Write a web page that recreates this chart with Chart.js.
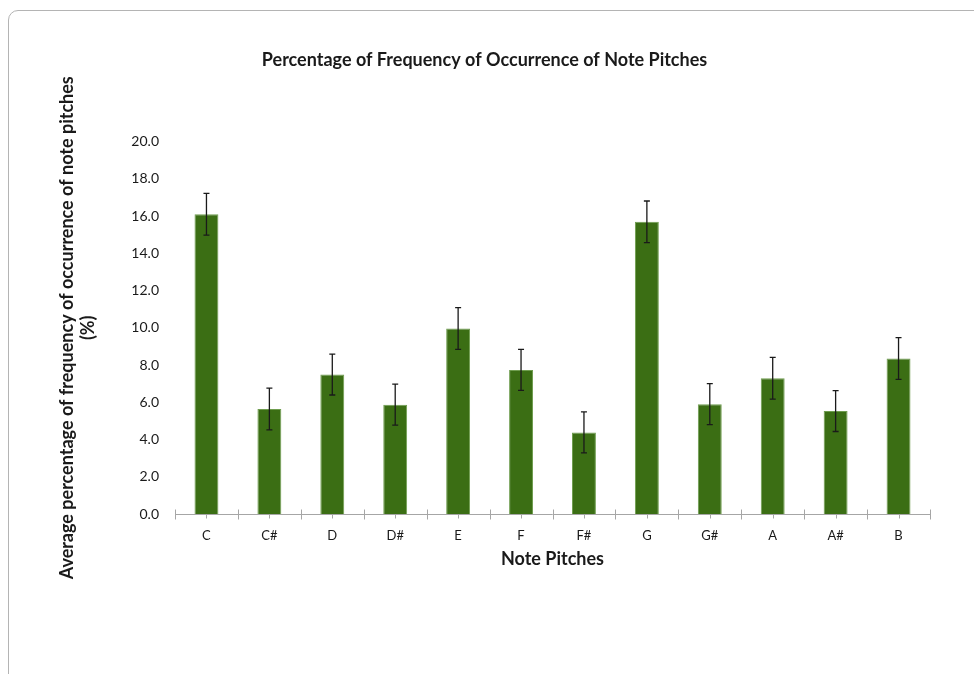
<!DOCTYPE html>
<html>
<head>
<meta charset="utf-8">
<script src="https://cdn.jsdelivr.net/npm/chart.js@4"></script>
<style>
  html, body { margin: 0; padding: 0; background: #fff; overflow: hidden; }
  #frame { position: absolute; left: 8px; top: 10px; width: 990px; height: 700px; border: 1px solid #b4b4b4; border-radius: 10px; box-sizing: border-box; }
  #wrap { position: absolute; left: 0; top: 0; width: 974px; height: 674px; }
</style>
</head>
<body>
<div id="frame"></div>
<div id="wrap"><canvas id="c"></canvas></div>
<script>
const categories = ['C', 'C#', 'D', 'D#', 'E', 'F', 'F#', 'G', 'G#', 'A', 'A#', 'B'];
const meanValues = [16.1, 5.64, 7.49, 5.87, 9.96, 7.74, 4.38, 15.69, 5.9, 7.29, 5.53, 8.35];
const errorValues = [1.12, 1.12, 1.1, 1.1, 1.12, 1.1, 1.1, 1.12, 1.1, 1.12, 1.1, 1.12];
const yTicks = [0, 2, 4, 6, 8, 10, 12, 14, 16, 18, 20];

const FONT = 'Lato, "Open Sans", sans-serif';

const errorBarPlugin = {
  id: 'errorBars',
  afterDatasetsDraw(chart) {
    const ctx = chart.ctx;
    const meta = chart.getDatasetMeta(0);
    const y = chart.scales.y;
    ctx.save();
    ctx.strokeStyle = '#1a1a1a';
    ctx.lineWidth = 1.3;
    meta.data.forEach((bar, i) => {
      const x = bar.x;
      const top = y.getPixelForValue(meanValues[i] + errorValues[i]);
      const bot = y.getPixelForValue(meanValues[i] - errorValues[i]);
      ctx.beginPath();
      ctx.moveTo(x, top); ctx.lineTo(x, bot);
      ctx.moveTo(x - 3, top); ctx.lineTo(x + 3, top);
      ctx.moveTo(x - 3, bot); ctx.lineTo(x + 3, bot);
      ctx.stroke();
    });
    ctx.restore();
  }
};

const tickMarkPlugin = {
  id: 'tickMarks',
  afterDraw(chart) {
    const ctx = chart.ctx;
    const xs = chart.scales.x;
    const yb = Math.round(chart.chartArea.bottom) + 0.5;
    ctx.save();
    ctx.strokeStyle = '#a6a6a6';
    ctx.lineWidth = 1;
    const n = categories.length;
    const w = (xs.right - xs.left) / n;
    for (let i = 0; i <= n; i++) {
      const px = Math.round(xs.left + i * w) + 0.5;
      ctx.beginPath(); ctx.moveTo(px, yb - 5); ctx.lineTo(px, yb + 5); ctx.stroke();
    }
    for (let i = 0; i < n; i++) {
      const px = Math.round(xs.getPixelForValue(i)) + 0.5;
      ctx.beginPath(); ctx.moveTo(px, yb); ctx.lineTo(px, yb + 4); ctx.stroke();
    }
    ctx.beginPath(); ctx.moveTo(xs.left, yb); ctx.lineTo(xs.right, yb); ctx.stroke();
    ctx.restore();
  }
};

new Chart(document.getElementById('c'), {
  type: 'bar',
  data: {
    labels: categories,
    datasets: [{
      data: meanValues,
      backgroundColor: '#3b6e14',
      borderColor: '#6f9d4f',
      borderWidth: 1,
      barPercentage: 0.38,
      categoryPercentage: 1.0
    }]
  },
  options: {
    responsive: true,
    maintainAspectRatio: false,
    animation: false,
    layout: { padding: { left: 39, right: 44, top: 49, bottom: 100 } },
    plugins: {
      legend: { display: false },
      tooltip: { enabled: false },
      title: {
        display: true,
        text: 'Percentage of Frequency of Occurrence of Note Pitches',
        color: '#1a1a1a',
        font: { family: FONT, size: 18, weight: 'bold' },
        padding: { top: 0, bottom: 71 }
      }
    },
    scales: {
      x: {
        grid: { display: false, drawOnChartArea: false },
        border: { display: false },
        ticks: { color: '#1a1a1a', font: { family: FONT, size: 13 }, padding: 6 },
        title: { display: true, text: 'Note Pitches', color: '#1a1a1a', font: { family: FONT, size: 18, weight: 'bold' }, padding: { top: 2 } },
        afterFit(s) { s.height = 60; }
      },
      y: {
        min: 0, max: 20,
        afterBuildTicks(s) { s.ticks = yTicks.map(v => ({ value: v })); },
        grid: { display: false },
        border: { display: false },
        ticks: { color: '#1a1a1a', font: { family: FONT, size: 14 }, padding: 8, callback: v => Number(v).toFixed(1) },
        title: { display: true, text: ['Average percentage of frequency of occurrence of note pitches', '(%)'], color: '#1a1a1a', font: { family: FONT, size: 18, weight: 'bold' }, padding: { top: 17, bottom: 0 } },
        afterFit(s) { s.width = 136; }
      }
    }
  },
  plugins: [errorBarPlugin, tickMarkPlugin]
});
</script>
</body>
</html>
